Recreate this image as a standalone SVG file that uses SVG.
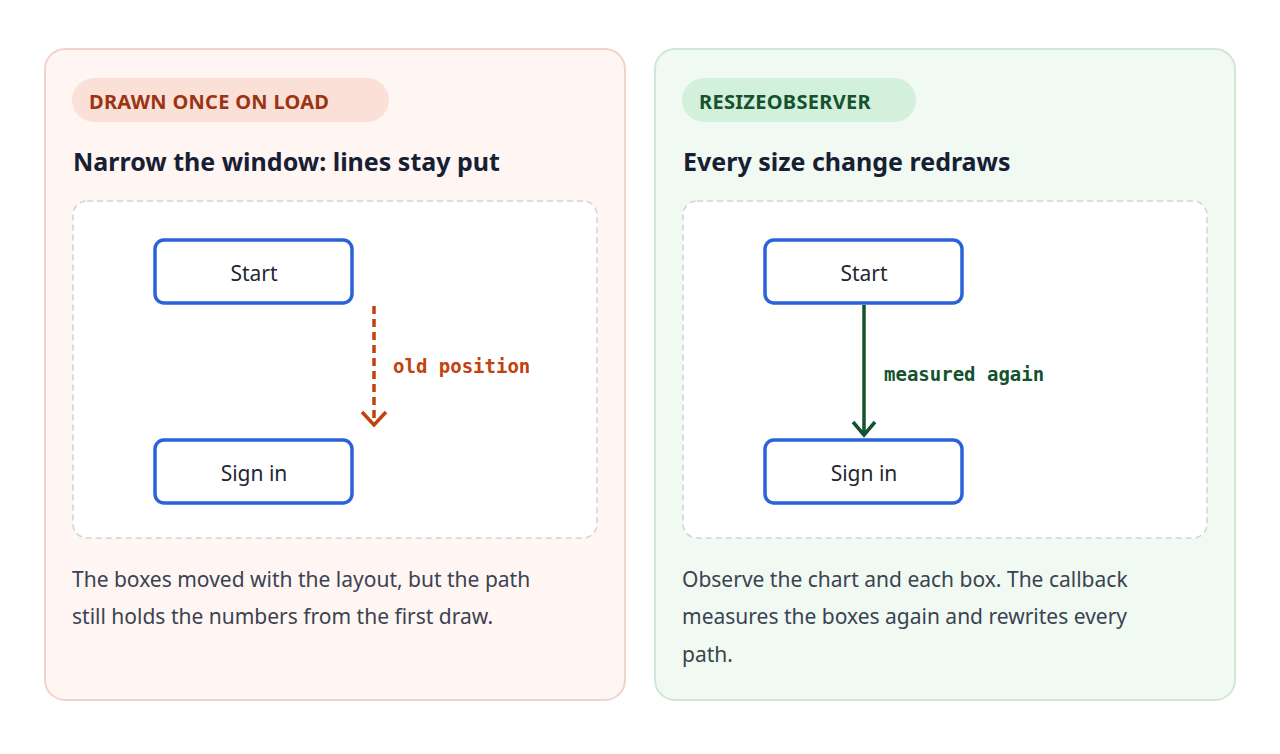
<svg xmlns="http://www.w3.org/2000/svg" width="1280" height="754" viewBox="0 0 1280 754">
<style>
.t{font-family:"Noto Sans","Open Sans",sans-serif}
.pill{font-family:"Noto Sans",sans-serif;font-weight:700;font-size:20px;letter-spacing:0.3px}
.h{font-family:"Noto Sans",sans-serif;font-weight:700;font-size:25px;fill:#172033}
.box{fill:#fff;stroke:#2a62d9;stroke-width:3.5}
.bt{font-family:"Noto Sans",sans-serif;font-size:21px;fill:#1f2733;text-anchor:middle}
.p{font-family:"Noto Sans",sans-serif;font-size:21px;fill:#3a4350}
.mono{font-family:"DejaVu Sans Mono",monospace;font-weight:700;font-size:19px}
.area{fill:#fff;stroke:#cfd3d8;stroke-width:1.5;stroke-dasharray:6 4}
</style>
<rect width="1280" height="754" fill="#fff"/>
<g id="panel-left">
<rect x="45" y="49" width="580" height="651" rx="20" fill="#fff5f3" stroke="#f2d3cb" stroke-width="2"/>
<rect x="72" y="78" width="317" height="44" rx="22" fill="#fbe0d8"/>
<text class="pill" x="89" y="109" fill="#9a3412">DRAWN ONCE ON LOAD</text>
<text class="h" x="73" y="171">Narrow the window: lines stay put</text>
<rect class="area" x="73" y="201" width="524" height="337" rx="14"/>
<text class="p" x="72" y="587">The boxes moved with the layout, but the path</text>
<text class="p" x="72" y="624">still holds the numbers from the first draw.</text>
</g>
<g id="l-start"><rect class="box" x="155" y="240" width="197" height="63" rx="9"/><text class="bt" x="254" y="281">Start</text></g>
<g id="l-signin"><rect class="box" x="155" y="440" width="197" height="63" rx="9"/><text class="bt" x="254" y="481">Sign in</text></g>
<g id="panel-right">
<rect x="655" y="49" width="580" height="651" rx="20" fill="#f0f9f2" stroke="#cfe8d6" stroke-width="2"/>
<rect x="682" y="78" width="234" height="44" rx="22" fill="#d3f0dc"/>
<text class="pill" x="699" y="109" fill="#14532d">RESIZEOBSERVER</text>
<text class="h" x="683" y="171">Every size change redraws</text>
<rect class="area" x="683" y="201" width="524" height="337" rx="14"/>
<text class="p" x="682" y="587">Observe the chart and each box. The callback</text>
<text class="p" x="682" y="624">measures the boxes again and rewrites every</text>
<text class="p" x="682" y="662">path.</text>
</g>
<g id="r-start"><rect class="box" x="765" y="240" width="197" height="63" rx="9"/><text class="bt" x="864" y="281">Start</text></g>
<g id="r-signin"><rect class="box" x="765" y="440" width="197" height="63" rx="9"/><text class="bt" x="864" y="481">Sign in</text></g>
<g id="connectors" fill="none" stroke-width="3.5">
<line x1="374" y1="306" x2="374" y2="424" stroke="#c2410c" stroke-dasharray="8 5"/>
<polyline points="362,412 374,425 386,412" stroke="#c2410c"/>
<text class="mono" x="393" y="373" fill="#c2410c" stroke="none">old position</text>
<line x1="864" y1="305" x2="864" y2="434" stroke="#14532d"/>
<polyline points="853,422 864,435 875,422" stroke="#14532d"/>
<text class="mono" x="884" y="381" fill="#14532d" stroke="none">measured again</text>
</g>
</svg>
